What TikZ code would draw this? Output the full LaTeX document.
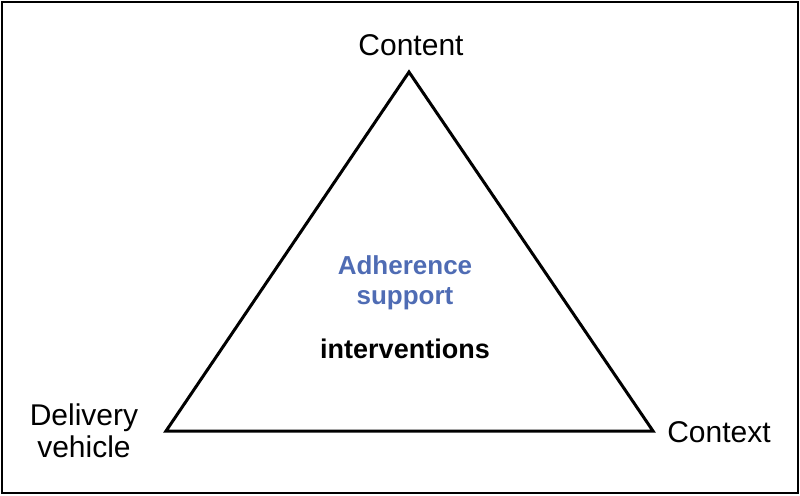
\documentclass[tikz,border=0pt]{standalone}
\usepackage{fontspec}
\setmainfont{Liberation Sans}
\usepackage{tikz}
\usetikzlibrary{positioning}
\definecolor{adhblue}{RGB}{79,108,180}

\begin{document}
\begin{tikzpicture}[
    x=1pt, y=-1pt,
    corner/.style={font=\fontsize{30}{32}\selectfont, align=center, inner sep=0pt},
    inner/.style={font=\fontsize{26}{30}\selectfont\bfseries, align=center, inner sep=0pt},
    side/.style={line width=3pt, line join=miter}
]
\useasboundingbox (0,0) rectangle (800,495);
\draw[line width=2pt] (2,2) rectangle (798,493);

\coordinate (top)   at (409,72);
\coordinate (left)  at (166,431);
\coordinate (right) at (653,431);

\draw[side] (top) -- (right) -- (left) -- cycle;

\node[corner] (content)  at (411,45)  {Content};
\node[corner] (delivery) at (84,431)  {Delivery\\vehicle};
\node[corner] (context)  at (719,432) {Context};

\node[inner, text=adhblue] (adh) at (405,283) {Adherence\\support};
\node[inner, font=\fontsize{27}{30}\selectfont\bfseries, below=28pt of adh] (interv) {interventions};
\end{tikzpicture}
\end{document}
